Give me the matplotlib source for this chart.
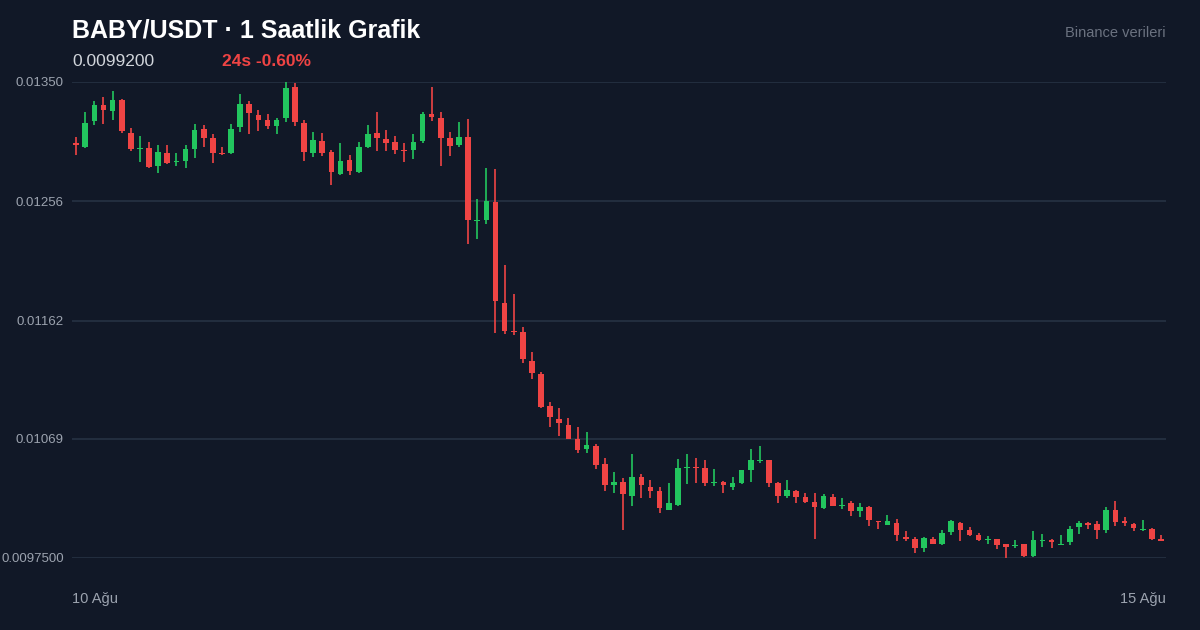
import matplotlib
matplotlib.use("Agg")
import matplotlib.pyplot as plt
import numpy as np

plt.rcParams['font.family'] = ['Liberation Sans', 'DejaVu Sans']

# prices in units of 1e-5 USDT
opens = [1301.9,1298.8,1319.3,1331.9,1327.2,1335.8,1309.8,1297.2,1298.0,1283.8,
         1294.1,1287.0,1287.8,1297.2,1313.0,1305.9,1294.1,1294.1,1314.5,1332.7,
         1324.0,1320.1,1315.3,1321.6,1346.1,1317.7,1294.1,1303.5,1294.9,1277.5,
         1288.6,1279.1,1298.8,1309.8,1305.1,1302.7,1296.4,1296.4,1303.5,1324.8,
         1321.6,1305.9,1300.4,1306.7,1240.5,1241.3,1255.5,1175.9,1153.8,1153.1,
         1130.2,1120.0,1094.8,1084.5,1079.8,1068.8,1060.9,1063.2,1049.1,1032.5,
         1034.9,1023.9,1038.8,1030.9,1027.8,1012.8,1016.8,1045.9,1046.7,1045.9,
         1034.1,1034.9,1030.9,1034.1,1044.3,1051.4,1052.2,1034.1,1023.9,1027.8,
         1023.1,1019.1,1014.4,1023.1,1016.0,1018.3,1012.0,1015.2,1004.2,1001.0,
         1002.6,991.6,990.0,982.9,990.0,986.0,995.5,1002.6,997.1,993.1,
         989.2,990.0,986.0,984.1,986.0,976.6,988.4,989.2,985.6,987.6,
         999.4,1002.6,1001.8,997.1,1012.8,1004.2,1001.8,996.7,997.9,990.0]
closes = [1300.4,1317.7,1331.9,1327.9,1335.8,1311.4,1297.2,1298.0,1283.0,1294.9,
          1286.2,1287.8,1297.2,1312.2,1305.9,1294.1,1293.3,1313.0,1332.7,1325.6,
          1320.1,1315.3,1320.1,1345.3,1318.5,1294.9,1304.3,1294.1,1279.1,1287.8,
          1279.9,1298.8,1309.0,1305.9,1301.9,1296.4,1295.6,1302.7,1324.8,1322.4,
          1305.9,1299.6,1306.7,1241.3,1241.3,1256.3,1177.5,1153.8,1153.1,1131.8,
          1120.8,1094.0,1086.1,1081.4,1068.8,1060.1,1064.0,1048.3,1032.5,1034.9,
          1025.4,1038.8,1032.5,1027.8,1014.4,1018.3,1045.9,1046.7,1045.9,1034.1,
          1034.9,1032.5,1034.1,1044.3,1052.2,1052.2,1034.1,1023.9,1028.6,1023.1,
          1019.1,1015.2,1023.9,1016.0,1016.8,1012.0,1015.2,1004.9,1003.4,1004.2,
          993.1,990.0,982.9,990.8,986.0,994.7,1004.2,997.1,993.1,989.2,
          990.0,985.3,983.7,984.9,976.6,989.2,989.2,987.6,986.4,997.9,
          1002.6,1001.0,997.1,1012.8,1003.4,1002.6,998.6,997.5,990.0,988.4]
highs = [1306.7,1326.4,1335.0,1338.2,1342.9,1336.6,1313.8,1307.5,1302.7,1300.4,
         1300.4,1294.1,1300.4,1316.9,1316.1,1309.0,1298.8,1316.9,1340.5,1335.0,
         1327.9,1324.8,1321.6,1350.0,1349.2,1320.1,1310.6,1309.8,1296.4,1301.9,
         1292.5,1302.7,1316.1,1326.4,1312.2,1307.5,1301.9,1309.0,1326.4,1346.1,
         1326.4,1310.6,1318.5,1320.9,1257.8,1282.3,1281.5,1205.8,1183.0,1157.0,
         1137.3,1121.5,1097.9,1093.2,1085.3,1078.2,1074.3,1064.8,1053.8,1042.8,
         1038.0,1056.9,1041.2,1036.5,1030.9,1034.1,1053.0,1056.9,1053.8,1052.2,
         1045.1,1035.7,1038.8,1044.5,1060.9,1063.2,1052.4,1034.9,1036.5,1028.6,
         1026.2,1026.2,1025.4,1025.4,1022.3,1019.9,1018.3,1016.0,1004.4,1008.9,
         1005.7,996.3,991.6,991.6,991.6,997.1,1004.9,1003.4,999.4,994.7,
         992.3,990.2,986.2,989.2,986.2,996.3,993.9,990.0,993.1,1000.2,
         1004.2,1003.4,1004.2,1015.2,1019.9,1007.3,1002.6,1004.9,998.6,993.1]
lows = [1292.5,1298.0,1316.1,1316.9,1320.1,1309.8,1295.6,1287.0,1282.5,1278.3,
        1285.4,1283.8,1282.3,1290.1,1298.8,1286.2,1292.5,1293.3,1310.6,1309.0,
        1311.4,1313.0,1309.0,1318.5,1315.3,1287.8,1290.9,1291.7,1268.9,1276.7,
        1276.7,1278.3,1298.0,1295.6,1295.6,1293.3,1287.0,1289.3,1301.9,1319.3,
        1283.8,1291.7,1298.8,1222.4,1226.3,1238.1,1152.3,1151.5,1150.7,1128.6,
        1116.0,1093.2,1078.2,1071.1,1068.5,1057.7,1057.7,1045.1,1027.8,1026.2,
        997.1,1016.0,1022.3,1022.3,1010.5,1012.5,1016.0,1033.3,1034.1,1031.7,
        1031.7,1026.2,1028.6,1033.3,1034.9,1049.8,1030.9,1018.3,1022.3,1018.3,
        1018.3,990.0,1013.6,1015.8,1013.6,1008.1,1007.3,1000.2,997.9,1000.8,
        988.4,988.4,979.0,979.7,985.8,985.3,993.1,988.4,992.3,988.4,
        986.0,982.1,975.0,982.9,975.8,975.8,983.7,982.9,985.3,985.3,
        993.9,997.9,990.0,994.7,1000.2,1000.2,996.3,996.3,989.2,988.2]
scale = 1e-5
ytick_vals = [0.00975, 0.01069, 0.01162, 0.01256, 0.01350]
ytick_labels = ["0.0097500", "0.01069", "0.01162", "0.01256", "0.01350"]
xtick_labels = ["10 Ağu", "15 Ağu"]

BG = "#111827"
GRID = "#263243"
TXT = "#9ca3af"
GREEN = "#22c55e"
RED = "#ef4444"

o = np.array(opens) * scale
c = np.array(closes) * scale
h = np.array(highs) * scale
l = np.array(lows) * scale
x = np.arange(len(o))

fig = plt.figure(figsize=(12, 6.3), dpi=100, facecolor=BG)
ax = fig.add_axes([0.06, 1 - 558 / 630, (1166 - 72) / 1200, (558 - 82) / 630])
ax.set_facecolor(BG)
for i in x:
    col = GREEN if c[i] >= o[i] else RED
    ax.vlines(i, l[i], h[i], color=col, linewidth=1.2, zorder=3)
    bot = min(o[i], c[i])
    hgt = max(abs(c[i] - o[i]), 0.000003)
    ax.bar(i, hgt, bottom=bot, width=0.62, color=col, zorder=4, linewidth=0)

ax.set_xlim(-0.45, len(o) - 0.45)
ax.set_ylim(0.00975, 0.0135)
ax.set_yticks(ytick_vals)
ax.set_yticklabels(ytick_labels)
ax.grid(axis="y", color=GRID, linewidth=1.2, zorder=0)
ax.set_xticks([])
for s in ax.spines.values():
    s.set_visible(False)
ax.tick_params(axis="y", length=0, colors=TXT, labelsize=9.5, pad=6)

fig.text(72 / 1200, 1 - 30 / 630, "BABY/USDT · 1 Saatlik Grafik", color="white",
         fontsize=18, fontweight="bold", va="center", ha="left")
fig.text(72 / 1200, 1 - 61 / 630, "0.0099200", color="#d1d5db", fontsize=12.5,
         va="center", ha="left")
fig.text(222 / 1200, 1 - 61 / 630, "24s -0.60%", color=RED, fontsize=12.5,
         fontweight="bold", va="center", ha="left")
fig.text(1166 / 1200, 1 - 33 / 630, "Binance verileri", color="#6b7280", fontsize=10.5,
         va="center", ha="right")
fig.text(72 / 1200, 1 - 599 / 630, xtick_labels[0], color=TXT, fontsize=10.5,
         va="center", ha="left")
fig.text(1166 / 1200, 1 - 599 / 630, xtick_labels[1], color=TXT, fontsize=10.5,
         va="center", ha="right")

fig.savefig("out.png", dpi=100, facecolor=BG)
